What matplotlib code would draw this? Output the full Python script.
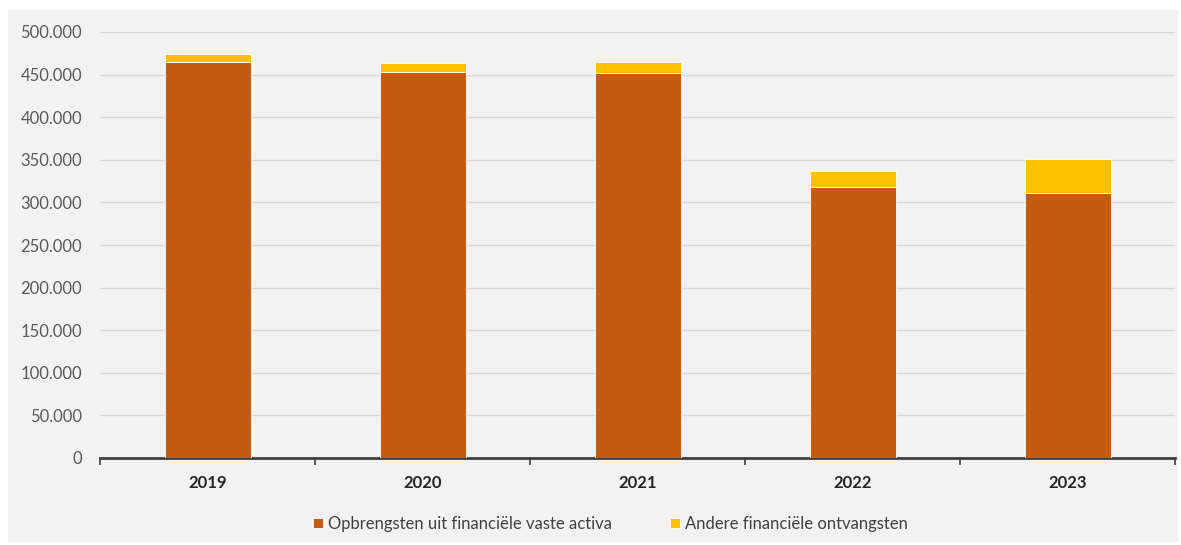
import matplotlib
matplotlib.use("Agg")
import matplotlib.pyplot as plt
from matplotlib.patches import Rectangle
from matplotlib.ticker import FuncFormatter, FixedLocator

# Data
jaren = ["2019", "2020", "2021", "2022", "2023"]
opbrengsten = [464500, 453400, 451500, 317800, 310700]
andere = [9700, 9900, 13600, 19400, 40600]
labels = ["Opbrengsten uit financiële vaste activa", "Andere financiële ontvangsten"]
kleuren = ["#c55a11", "#ffc000"]

plt.rcParams['font.family'] = ['Lato', 'DejaVu Sans']

fig = plt.figure(figsize=(11.81, 5.45), dpi=100, facecolor="white")
# lichtgrijs paneel
fig.patches.append(Rectangle((8 / 1181, 3 / 545), 1170 / 1181, 532 / 545,
                             transform=fig.transFigure, facecolor="#f2f2f2",
                             edgecolor="none", zorder=-10))

ax = fig.add_axes([100 / 1181, 1 - 458 / 545, 1075 / 1181, 426 / 545])
ax.set_zorder(1)
ax.set_facecolor("none")

x = list(range(len(jaren)))
ax.bar(x, opbrengsten, width=0.4, color=kleuren[0], edgecolor="white",
       linewidth=0.6, label=labels[0], zorder=3)
ax.bar(x, andere, width=0.4, bottom=opbrengsten, color=kleuren[1],
       edgecolor="white", linewidth=0.6, label=labels[1], zorder=3)

ax.set_xlim(-0.5, len(jaren) - 0.5)
ax.set_ylim(0, 500000)
ax.set_yticks(range(0, 500001, 50000))
ax.yaxis.set_major_formatter(FuncFormatter(lambda v, p: f"{int(v):,}".replace(",", ".")))
ax.grid(axis="y", color="#d9d9d9", linewidth=1, zorder=0)

ax.set_xticks(x)
ax.set_xticklabels(jaren, fontweight="bold", fontsize=12, color="#262626")
ax.tick_params(axis="x", length=0, pad=12)
ax.xaxis.set_minor_locator(FixedLocator([i - 0.5 for i in range(len(jaren) + 1)]))
ax.tick_params(axis="x", which="minor", length=5, width=1.2, color="#404040")
ax.tick_params(axis="y", length=0, labelsize=12, labelcolor="#595959", pad=13)

for s in ["top", "right", "left"]:
    ax.spines[s].set_visible(False)
ax.spines["bottom"].set_color("#404040")
ax.spines["bottom"].set_linewidth(2)

ax.legend(loc="center", bbox_to_anchor=(0.475, -0.155), ncol=2, frameon=False,
          fontsize=12, handlelength=0.6, handleheight=0.6, columnspacing=3.5,
          handletextpad=0.3, labelcolor="#404040")

fig.savefig("out.png", dpi=100, facecolor="white")
